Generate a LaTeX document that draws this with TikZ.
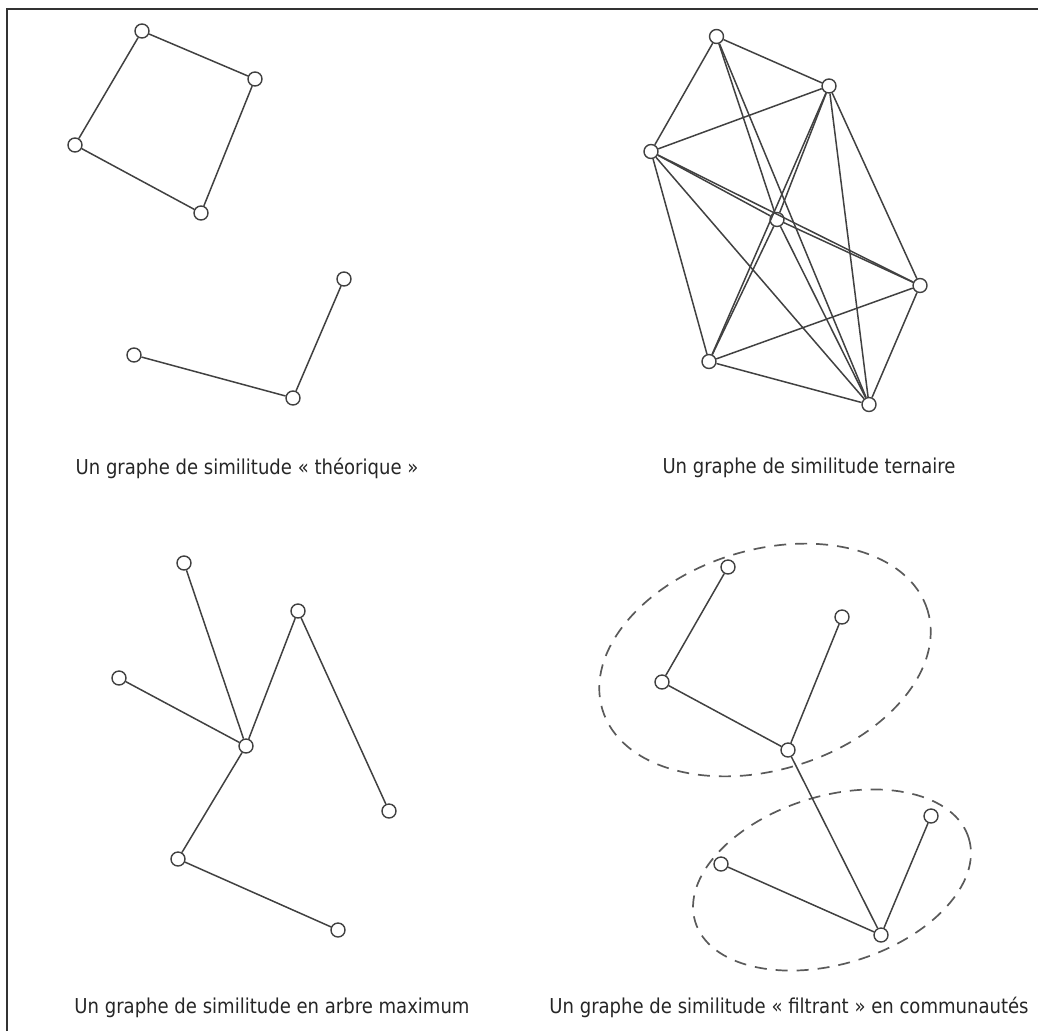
\documentclass[tikz,border=0pt]{standalone}
\usepackage{fontspec}
\newfontfamily\capfont{DejaVu Sans}[FakeStretch=0.88]
\usepackage{xcolor}
\definecolor{gline}{RGB}{65,65,65}
\definecolor{gdash}{RGB}{90,90,90}
\definecolor{gframe}{RGB}{50,50,50}
\usepackage{tikz}

\tikzset{
  vertex/.style={circle, draw=gline, fill=white, line width=1.4pt, minimum size=14pt, inner sep=0pt},
  edge/.style={draw=gline, line width=1.5pt},
  community/.style={draw=gdash, line width=1.7pt, dash pattern=on 12pt off 9pt},
  caption/.style={font=\capfont\fontsize{20.5}{24}\selectfont, text=black!85, anchor=base, inner sep=0pt}
}

\begin{document}
\begin{tikzpicture}[x=1pt, y=-1pt]
  \useasboundingbox (0,0) rectangle (1038,1031);
  % frame
  \draw[gframe, line width=1.5pt] (7,1031) -- (7,9) -- (1038,9);

  % --- Top left: theorique ---
  \node[vertex] (th1) at (142,31) {};
  \node[vertex] (th2) at (255,79) {};
  \node[vertex] (th3) at (201,213) {};
  \node[vertex] (th4) at (75,145) {};
  \draw[edge] (th1) -- (th2) -- (th3) -- (th4) -- (th1);

  \node[vertex] (th5) at (344,279) {};
  \node[vertex] (th6) at (293,398) {};
  \node[vertex] (th7) at (134,355) {};
  \draw[edge] (th5) -- (th6) -- (th7);

  \node[caption] (capth) at (247,474) {Un graphe de similitude « théorique »};

  % --- Top right: ternaire ---
  \node[vertex] (teA) at (716.5,36.5) {};
  \node[vertex] (teB) at (829,86) {};
  \node[vertex] (teC) at (651,151.5) {};
  \node[vertex] (teD) at (777,219.5) {};
  \node[vertex] (teE) at (920,285.5) {};
  \node[vertex] (teF) at (709,361.5) {};
  \node[vertex] (teG) at (869,404.5) {};
  \draw[edge] (teA) -- (teB);
  \draw[edge] (teA) -- (teC);
  \draw[edge] (teB) -- (teC);
  \draw[edge] (teA) -- (teD);
  \draw[edge] (teD) -- (teG);
  \draw[edge] (teA) -- (teG);
  \draw[edge] (teB) -- (teD);
  \draw[edge] (teD) -- (teF);
  \draw[edge] (teB) -- (teF);
  \draw[edge] (teC) -- (teD);
  \draw[edge] (teD) -- (teE);
  \draw[edge] (teC) -- (teE);
  \draw[edge] (teC) -- (teF);
  \draw[edge] (teC) -- (teG);
  \draw[edge] (teB) -- (teG);
  \draw[edge] (teB) -- (teE);
  \draw[edge] (teF) -- (teE);
  \draw[edge] (teF) -- (teG);
  \draw[edge] (teE) -- (teG);

  \node[caption] (capte) at (809,473) {Un graphe de similitude ternaire};

  % --- Bottom left: arbre maximum ---
  \node[vertex] (ar1) at (184,563) {};
  \node[vertex] (ar2) at (298,611) {};
  \node[vertex] (ar3) at (119,678) {};
  \node[vertex] (ar4) at (246,746) {};
  \node[vertex] (ar5) at (389,811) {};
  \node[vertex] (ar6) at (178,859) {};
  \node[vertex] (ar7) at (338,930) {};
  \draw[edge] (ar1) -- (ar4);
  \draw[edge] (ar3) -- (ar4);
  \draw[edge] (ar4) -- (ar2) -- (ar5);
  \draw[edge] (ar4) -- (ar6) -- (ar7);

  \node[caption] (capar) at (272,1013) {Un graphe de similitude en arbre maximum};

  % --- Bottom right: communautes ---
  \draw[community, rotate around={17:(765,660)}] (765,660) ellipse [x radius=170pt, y radius=110pt];
  \draw[community, rotate around={17:(832,880)}] (832,880) ellipse [x radius=143pt, y radius=84pt];

  \node[vertex] (fi1) at (728,567) {};
  \node[vertex] (fi2) at (842,617) {};
  \node[vertex] (fi3) at (662,682) {};
  \node[vertex] (fi4) at (788,750) {};
  \node[vertex] (fi5) at (931,816) {};
  \node[vertex] (fi6) at (721,864) {};
  \node[vertex] (fi7) at (881,935) {};
  \draw[edge] (fi1) -- (fi3) -- (fi4) -- (fi2);
  \draw[edge] (fi4) -- (fi7);
  \draw[edge] (fi6) -- (fi7) -- (fi5);

  \node[caption] (capfi) at (789,1013) {Un graphe de similitude « filtrant » en communautés};
\end{tikzpicture}
\end{document}
